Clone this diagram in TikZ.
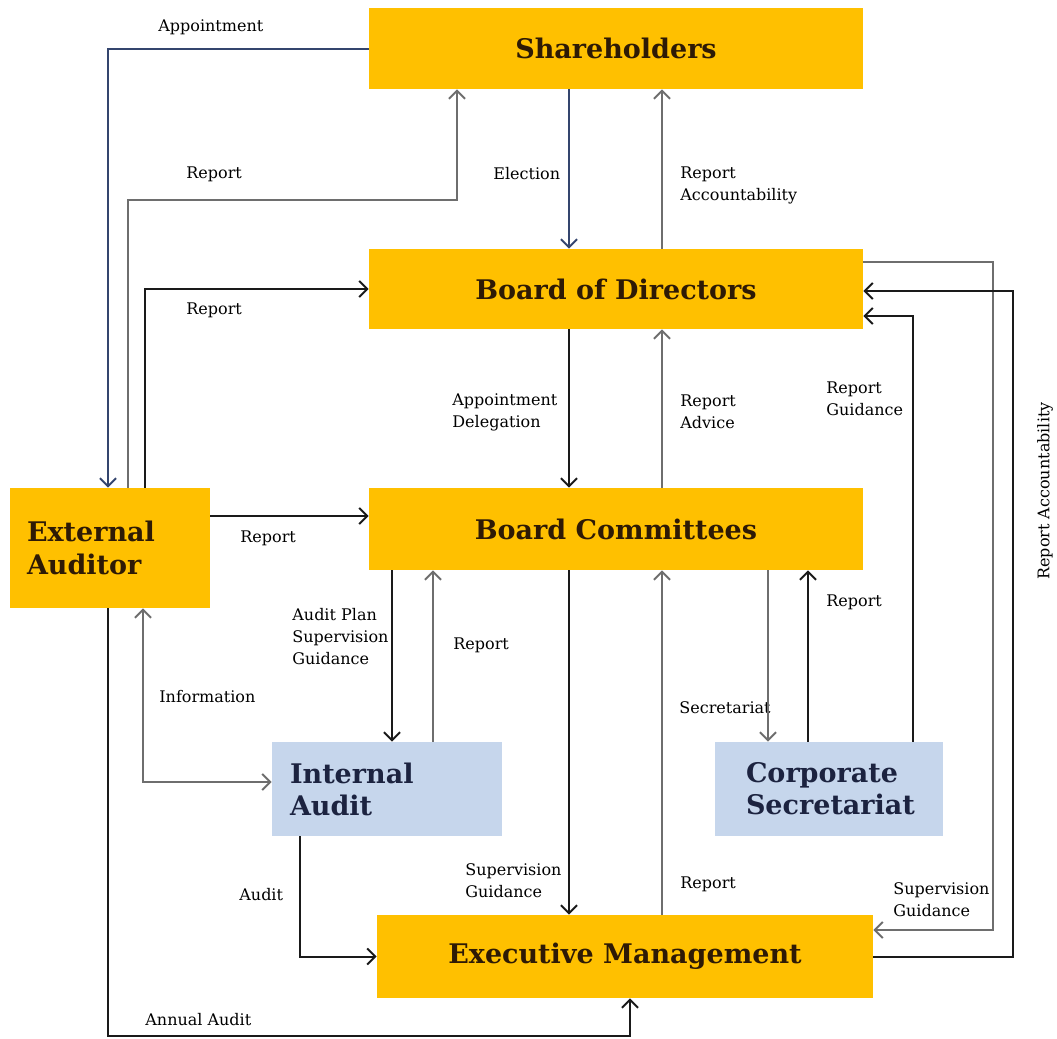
\documentclass[tikz,border=0pt]{standalone}
\usepackage{fontspec}
\setmainfont{DejaVu Serif}
\usetikzlibrary{arrows.meta,positioning}
\definecolor{gold}{HTML}{FFC000}
\definecolor{paleblue}{HTML}{C6D6EC}
\definecolor{titlebrown}{HTML}{2E1A05}
\definecolor{titlenavy}{HTML}{1C2340}
\definecolor{linenavy}{HTML}{34456E}
\definecolor{linegrey}{HTML}{6E6E6E}
\definecolor{lineblack}{HTML}{1A1A1A}

\begin{document}
\begin{tikzpicture}
[x=0.5pt,y=-0.5pt,>={Straight Barb[length=4pt,width=8pt]},
 goldbox/.style={rectangle,fill=gold,inner sep=0pt,text=titlebrown,font=\fontsize{13.5}{16.5}\selectfont\bfseries},
 bluebox/.style={rectangle,fill=paleblue,inner sep=0pt,text=titlenavy,align=left,font=\fontsize{13.5}{16}\selectfont\bfseries},
 tag/.style={inner sep=0pt,anchor=west,align=left,font=\fontsize{8}{11}\selectfont},
 navyline/.style={draw=linenavy,line width=1pt},
 greyline/.style={draw=linegrey,line width=1pt},
 blackline/.style={draw=lineblack,line width=1pt}]
\useasboundingbox (0,0) rectangle (1057,1039);

% boxes
\node[goldbox,minimum width=247pt,minimum height=40.5pt] (sh) at (616,48.5) {Shareholders};
\node[goldbox,minimum width=247pt,minimum height=40pt] (bod) at (616,289) {Board of Directors};
\node[goldbox,minimum width=247pt,minimum height=41pt] (bc) at (616,529) {Board Committees};
\node[goldbox,minimum width=248pt,minimum height=41.5pt] (em) at (625,956.5) {Executive Management};
\node[goldbox,minimum width=100pt,minimum height=60pt,text width=83pt,align=left] (ea) at (110,548) {External\\Auditor};
\node[bluebox,minimum width=115pt,minimum height=47pt,text width=97pt] (ia) at (387,789) {Internal\\Audit};
\node[bluebox,minimum width=114pt,minimum height=47pt,text width=83pt] (cs) at (829,789) {Corporate\\Secretariat};

% labels
\node[tag] (l-appt) at (158,27) {Appointment};
\node[tag] (l-rep1) at (186,174) {Report};
\node[tag] (l-elec) at (493,174) {Election};
\node[tag] (l-racc) at (680,185) {Report\\Accountability};
\node[tag] (l-rep2) at (186,310) {Report};
\node[tag] (l-adel) at (452,412) {Appointment\\Delegation};
\node[tag] (l-radv) at (680,412) {Report\\Advice};
\node[tag] (l-rgui) at (826,399) {Report\\Guidance};
\node[tag] (l-rep3) at (240,538) {Report};
\node[inner sep=0pt,rotate=90,font=\fontsize{8}{11}\selectfont] (l-racc2) at (1045,491) {Report Accountability};
\node[tag] (l-plan) at (292,637) {Audit Plan\\Supervision\\Guidance};
\node[tag] (l-rep4) at (453,645) {Report};
\node[tag] (l-rep5) at (826,602) {Report};
\node[tag] (l-info) at (159,697) {Information};
\node[tag] (l-secr) at (679,708) {Secretariat};
\node[tag] (l-audt) at (239,895) {Audit};
\node[tag] (l-sgui1) at (465,881) {Supervision\\Guidance};
\node[tag] (l-rep6) at (680,884) {Report};
\node[tag] (l-sgui2) at (893,900) {Supervision\\Guidance};
\node[tag] (l-annu) at (145,1020) {Annual Audit};

% bends
\coordinate (b-rep1) at (457,200);
\coordinate (b-annu) at (630,1036);
\coordinate (b-sgui) at (993,930);
\coordinate (b-racc) at (1013,291);

% connectors
\draw[navyline,->] (sh.west) -| (ea.north -| 108,0);
\draw[greyline,->] (ea.north -| 128,0) |- (b-rep1) -- (sh.south -| b-rep1);
\draw[blackline,->] (ea.north -| 145,0) |- (bod.west);
\draw[navyline,->] (sh.south -| 569,0) -- (bod.north -| 569,0);
\draw[greyline,->] (bod.north -| 662,0) -- (sh.south -| 662,0);
\draw[blackline,->] (bod.south -| 569,0) -- (bc.north -| 569,0);
\draw[greyline,->] (bc.north -| 662,0) -- (bod.south -| 662,0);
\draw[blackline,->] (ea.east |- 0,516) -- (bc.west |- 0,516);
\draw[blackline,->] (bc.south -| 392,0) -- (ia.north -| 392,0);
\draw[greyline,->] (ia.north -| 433,0) -- (bc.south -| 433,0);
\draw[greyline,<->] (ea.south -| 143,0) |- (ia.west |- 0,782);
\draw[blackline,->] (ea.south -| 108,0) |- (b-annu) -- (em.south -| b-annu);
\draw[blackline,->] (ia.south -| 300,0) |- (em.west);
\draw[blackline,->] (bc.south -| 569,0) -- (em.north -| 569,0);
\draw[greyline,->] (em.north -| 662,0) -- (bc.south -| 662,0);
\draw[greyline,->] (bc.south -| 768,0) -- (cs.north -| 768,0);
\draw[blackline,->] (cs.north -| 808,0) -- (bc.south -| 808,0);
\draw[blackline,->] (cs.north -| 913,0) |- (bod.east |- 0,316);
\draw[greyline,->] (bod.east |- 0,262) -| (b-sgui) -- (em.east |- b-sgui);
\draw[blackline,->] (em.east |- 0,957) -| (b-racc) -- (bod.east |- b-racc);
\end{tikzpicture}
\end{document}
